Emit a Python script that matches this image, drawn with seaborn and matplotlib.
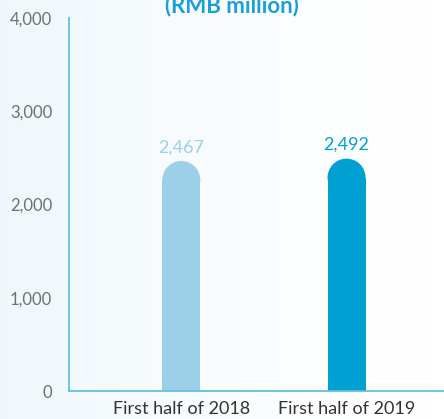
import matplotlib
matplotlib.use("Agg")
import matplotlib.pyplot as plt
from matplotlib.patches import Ellipse
from matplotlib.ticker import FuncFormatter
import seaborn as sns
import numpy as np
import pandas as pd

periods = ["First half of 2018", "First half of 2019"]
values = [2467, 2492]
value_labels = ["2,467", "2,492"]
bar_colors = ["#9ccfe8", "#00a0d2"]
y_ticks = [0, 1000, 2000, 3000, 4000]

sns.set_style("white")
plt.rcParams["font.family"] = ["Lato", "DejaVu Sans"]

fig = plt.figure(figsize=(4.44, 4.19), dpi=100)

# soft blue wash on the left side of the background
bg = fig.add_axes([0, 0, 1, 1], zorder=-1)
grad = np.linspace(1, 0, 256) ** 1.4
img = np.ones((2, 256, 4))
img[..., 0] = 0.90
img[..., 1] = 0.955
img[..., 2] = 0.98
img[..., 3] = grad * 0.6
bg.imshow(img, aspect="auto", extent=[0, 1, 0, 1])
bg.axis("off")

ax = fig.add_axes([69 / 444, 1 - 391 / 419, 1 - 69 / 444, (391 - 18) / 419])
ax.set_facecolor("none")

df = pd.DataFrame({"period": periods, "value": values})
sns.barplot(data=df, x="period", y="value", hue="period", palette=bar_colors,
            width=0.23, legend=False, saturation=1, ax=ax)

ax.set_xlim(-0.68, 1.59)
ax.set_ylim(0, 4000)
ax.set_yticks(y_ticks)
ax.yaxis.set_major_formatter(FuncFormatter(lambda v, p: f"{int(v):,}"))
ax.set_xlabel("")
ax.set_ylabel("")

# rounded bar tops: cap radius equals half the bar width in pixels
fig.canvas.draw()
px_per_x = ax.transData.transform((1, 0))[0] - ax.transData.transform((0, 0))[0]
px_per_y = ax.transData.transform((0, 1000))[1] - ax.transData.transform((0, 0))[1]
for patch, col, lab in zip(ax.patches, bar_colors, value_labels):
    x0 = patch.get_x()
    w = patch.get_width()
    h = patch.get_height()
    r_y = (w * px_per_x / 2) / px_per_y * 1000
    patch.set_height(h - r_y)
    patch.set_edgecolor("none")
    ax.add_patch(Ellipse((x0 + w / 2, h - r_y), w, 2 * r_y, facecolor=col,
                         edgecolor="none", zorder=patch.get_zorder()))
    ax.annotate(lab, (x0 + w / 2, h), xytext=(0, 4), textcoords="offset points",
                ha="center", va="bottom", color=col, fontsize=13)

sns.despine(ax=ax)
for s in ["left", "bottom"]:
    ax.spines[s].set_color("#62c0e0")
    ax.spines[s].set_linewidth(1.3)
ax.tick_params(axis="y", direction="in", length=2.5, width=1, color="#62c0e0",
               labelcolor="#707070", labelsize=12, pad=12)
ax.tick_params(axis="x", length=0, labelcolor="#333333", labelsize=13, pad=7)

fig.text(0.523, 1 - 6 / 419, "(RMB million)", ha="center", va="center",
         color="#1a9fd6", fontsize=16, fontweight="bold")

fig.savefig("out.png", dpi=100)
